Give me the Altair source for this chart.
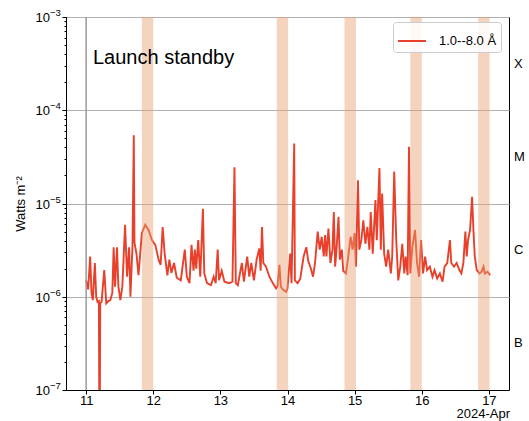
import altair as alt
import pandas as pd

# ---- data ----
days = [11.00, 11.03, 11.06, 11.08, 11.10, 11.13, 11.15, 11.17, 11.19, 11.20, 11.21, 11.23,
        11.27, 11.30, 11.33, 11.36, 11.39, 11.41, 11.43, 11.46, 11.48, 11.51, 11.54, 11.58,
        11.61, 11.64, 11.66, 11.69, 11.71, 11.72, 11.75, 11.78, 11.83, 11.88, 11.93, 11.98,
        12.03, 12.08, 12.11, 12.14, 12.17, 12.21, 12.24, 12.27, 12.31, 12.35, 12.41, 12.47,
        12.50, 12.54, 12.57, 12.60, 12.62, 12.64, 12.67, 12.70, 12.74, 12.76, 12.80, 12.86,
        12.90, 12.93, 12.96, 12.98, 13.02, 13.06, 13.13, 13.18, 13.21, 13.23, 13.26, 13.32,
        13.35, 13.40, 13.43, 13.46, 13.50, 13.54, 13.58, 13.60, 13.62, 13.64, 13.68, 13.73,
        13.78, 13.83, 13.85, 13.88, 13.90, 13.94, 13.98, 14.00, 14.04, 14.06, 14.10, 14.11,
        14.15, 14.19, 14.24, 14.28, 14.31, 14.35, 14.38, 14.41, 14.45, 14.48, 14.51, 14.54,
        14.56, 14.58, 14.61, 14.64, 14.67, 14.69, 14.71, 14.73, 14.76, 14.78, 14.81, 14.83,
        14.87, 14.90, 14.94, 14.97, 15.00, 15.02, 15.05, 15.07, 15.10, 15.13, 15.16, 15.19,
        15.22, 15.24, 15.27, 15.31, 15.33, 15.37, 15.39, 15.41, 15.44, 15.47, 15.50, 15.54,
        15.56, 15.59, 15.62, 15.65, 15.68, 15.71, 15.74, 15.76, 15.79, 15.81, 15.83, 15.86,
        15.90, 15.93, 15.96, 15.99, 16.02, 16.05, 16.08, 16.12, 16.16, 16.19, 16.23, 16.27,
        16.31, 16.34, 16.38, 16.42, 16.44, 16.48, 16.52, 16.56, 16.59, 16.62, 16.65, 16.67,
        16.69, 16.72, 16.75, 16.77, 16.79, 16.82, 16.86, 16.89, 16.92, 16.94, 16.98, 17.02]

flux = [1.5e-6, 1.2e-6, 2.7e-6, 1.1e-6, 0.92e-6, 2.3e-6, 1.0e-6, 0.88e-6, 0.9e-6, 1e-8, 0.85e-6, 0.88e-6,
        1.93e-6, 0.85e-6, 0.9e-6, 0.92e-6, 1.1e-6, 3.4e-6, 1.28e-6, 3.4e-6, 1.3e-6, 0.92e-6, 1.3e-6, 5.9e-6,
        1.64e-6, 3.4e-6, 1.0e-6, 3.4e-6, 5.4e-5, 3.8e-6, 2.9e-6, 1.7e-6, 4.8e-6, 5.9e-6, 5.2e-6, 4.05e-6,
        3.6e-6, 2.5e-6, 2.2e-6, 5.6e-6, 2.9e-6, 1.7e-6, 2.5e-6, 1.8e-6, 2.3e-6, 1.6e-6, 1.5e-6, 3.2e-6,
        1.64e-6, 1.4e-6, 3.6e-6, 1.9e-6, 3.2e-6, 2.0e-6, 4.05e-6, 1.64e-6, 8.8e-6, 1.78e-6, 1.4e-6, 1.33e-6,
        1.64e-6, 1.4e-6, 3.2e-6, 1.5e-6, 1.9e-6, 1.45e-6, 1.4e-6, 1.45e-6, 2.45e-5, 1.4e-6, 1.33e-6, 2.3e-6,
        1.45e-6, 2.7e-6, 1.64e-6, 2.3e-6, 1.5e-6, 2.5e-6, 3.3e-6, 1.9e-6, 5.6e-6, 2.3e-6, 2.1e-6, 1.64e-6,
        1.4e-6, 1.23e-6, 1.28e-6, 2.2e-6, 1.28e-6, 1.18e-6, 1.13e-6, 1.23e-6, 2.9e-6, 1.4e-6, 4.4e-5, 1.5e-6,
        1.4e-6, 1.55e-6, 2.7e-6, 3.4e-6, 2.4e-6, 2.0e-6, 1.64e-6, 2.3e-6, 5.0e-6, 3.2e-6, 4.4e-6, 2.7e-6,
        4.6e-6, 2.7e-6, 5.4e-6, 2.3e-6, 3.2e-6, 8.1e-6, 2.1e-6, 3.2e-6, 7.2e-6, 2.5e-6, 3.2e-6, 1.9e-6,
        1.78e-6, 2.5e-6, 4.4e-6, 3.2e-6, 4.8e-6, 2.1e-6, 1.78e-5, 3.2e-6, 4.05e-6, 6.6e-6, 3.7e-6, 5.6e-6,
        3.2e-6, 8.1e-6, 2.9e-6, 1.09e-5, 4.05e-6, 2.4e-5, 3.2e-6, 1.28e-5, 2.9e-6, 2.1e-6, 3.2e-6, 1.78e-6,
        2.7e-6, 2.2e-5, 4.05e-6, 1.5e-6, 2.1e-6, 3.7e-6, 1.78e-6, 2.7e-6, 1.7e-6, 4.05e-5, 1.78e-6, 3.4e-6,
        5.2e-6, 2.3e-6, 1.64e-6, 4.05e-6, 1.78e-6, 2.7e-6, 1.93e-6, 2.1e-6, 1.64e-6, 1.93e-6, 1.57e-6, 1.78e-6,
        1.45e-6, 2.1e-6, 2.3e-6, 4.05e-6, 2.3e-6, 2.1e-6, 2.3e-6, 1.93e-6, 1.78e-6, 2.3e-6, 5.0e-6, 2.7e-6,
        4.05e-6, 5.2e-6, 1.18e-5, 5.2e-6, 2.7e-6, 1.93e-6, 1.78e-6, 1.85e-6, 2.1e-6, 1.78e-6, 1.85e-6, 1.7e-6]

series_label = "1.0--8.0 Å"

band_start = [11.83, 13.84, 14.85, 15.83, 16.84]
band_end = [12.00, 14.01, 15.02, 16.00, 17.01]

launch_day = [11.0]
annotation = "Launch standby"

class_letters = ["X", "M", "C", "B"]
class_mid = [3.16e-4, 3.16e-5, 3.16e-6, 3.16e-7]

x_ticks = [11, 12, 13, 14, 15, 16, 17]
decades = [1e-7, 1e-6, 1e-5, 1e-4, 1e-3]
decade_base = ["10", "10", "10", "10", "10"]
decade_exp = ["−7", "−6", "−5", "−4", "−3"]
x_domain = [10.70, 17.30]
y_domain = [1e-7, 1e-3]
date_label = "2024-Apr"

# ---- styling ----
W, H = 443, 373
RED = "#e8402b"
FONT = "Liberation Sans"

y_ticks = []
for d in decades[:-1]:
    for m in range(1, 10):
        y_ticks.append(round(d * m, 12))
y_ticks.append(decades[-1])

major = "abs(log(datum.value)/LN10 - round(log(datum.value)/LN10)) < 0.001"

df = pd.DataFrame({"day": days, "flux": flux, "series": [series_label] * len(days)})
bands = pd.DataFrame({"start": band_start, "end": band_end})
vline = pd.DataFrame({"day": launch_day})
classes = pd.DataFrame({"cls": class_letters, "flux": class_mid})
note = pd.DataFrame({"t": [annotation]})
datenote = pd.DataFrame({"t": [date_label]})
ylabels = pd.DataFrame({"v": decades, "base": decade_base, "exp": decade_exp})

xscale = alt.Scale(domain=x_domain, nice=False, zero=False)
yscale = alt.Scale(type="log", domain=y_domain, nice=False)

line = alt.Chart(df).mark_line(strokeWidth=1.9, clip=True).encode(
    x=alt.X("day:Q", scale=xscale,
            axis=alt.Axis(values=x_ticks, format="d", grid=False, title=None,
                          labelFontSize=13, labelFont=FONT,
                          tickSize=4, labelPadding=0, domainColor="black", tickColor="black",
                          labelColor="black", labelFlush=False)),
    y=alt.Y("flux:Q", scale=yscale,
            axis=alt.Axis(values=y_ticks, labels=False, title="Watts m⁻²",
                          titleFontWeight="normal", titleFontSize=13, titleFont=FONT,
                          titlePadding=34,
                          tickSize={"condition": {"test": major, "value": 4}, "value": 2},
                          grid=True, gridColor="#b0b0b0", gridWidth=1,
                          gridOpacity={"condition": {"test": major, "value": 1}, "value": 0},
                          domainColor="black", tickColor="black",
                          titleColor="black")),
    color=alt.Color("series:N", scale=alt.Scale(domain=[series_label], range=[RED]),
                    legend=alt.Legend(title=None, orient="none", legendX=327, legendY=5,
                                      symbolType="stroke", symbolStrokeWidth=2,
                                      symbolSize=780, labelFontSize=13, labelFont=FONT,
                                      labelColor="black", padding=4, labelOffset=12,
                                      strokeColor="#cccccc", fillColor="rgba(255,255,255,0.85)",
                                      cornerRadius=3)),
)

band_layer = alt.Chart(bands).mark_rect(color="#e8a070", opacity=0.45).encode(
    x=alt.X("start:Q", scale=xscale),
    x2="end:Q",
    y=alt.value(0),
    y2=alt.value(H),
)

rule = alt.Chart(vline).mark_rule(color="#999999", strokeWidth=1.5).encode(
    x=alt.X("day:Q", scale=xscale),
)

ylab_base = alt.Chart(ylabels).mark_text(align="right", baseline="middle", fontSize=13,
                                          font=FONT, color="black", dy=1).encode(
    x=alt.value(-16),
    y=alt.Y("v:Q", scale=yscale),
    text="base:N",
)
ylab_exp = alt.Chart(ylabels).mark_text(align="left", baseline="middle", fontSize=9.5,
                                         font=FONT, color="black", dy=-4).encode(
    x=alt.value(-16),
    y=alt.Y("v:Q", scale=yscale),
    text="exp:N",
)

class_text = alt.Chart(classes).mark_text(align="left", baseline="middle", fontSize=13,
                                           font=FONT, color="black").encode(
    x=alt.value(W + 5),
    y=alt.Y("flux:Q", scale=yscale),
    text="cls:N",
)

note_text = alt.Chart(note).mark_text(align="left", baseline="middle", fontSize=20,
                                       font=FONT, color="black").encode(
    x=alt.value(27),
    y=alt.value(41),
    text="t:N",
)

date_text = alt.Chart(datenote).mark_text(align="right", baseline="alphabetic", fontSize=13,
                                           font=FONT, color="black").encode(
    x=alt.value(W + 1),
    y=alt.value(H + 28),
    text="t:N",
)

chart = alt.layer(line, band_layer, rule, ylab_base, ylab_exp, class_text, note_text,
                  date_text).properties(
    width=W, height=H,
    autosize=alt.AutoSizeParams(type="none"),
    padding={"left": 66, "top": 17, "right": 20, "bottom": 31},
).configure_view(stroke="black", strokeWidth=1)

chart.save("out.html", embed_options={"renderer": "svg", "actions": False})
